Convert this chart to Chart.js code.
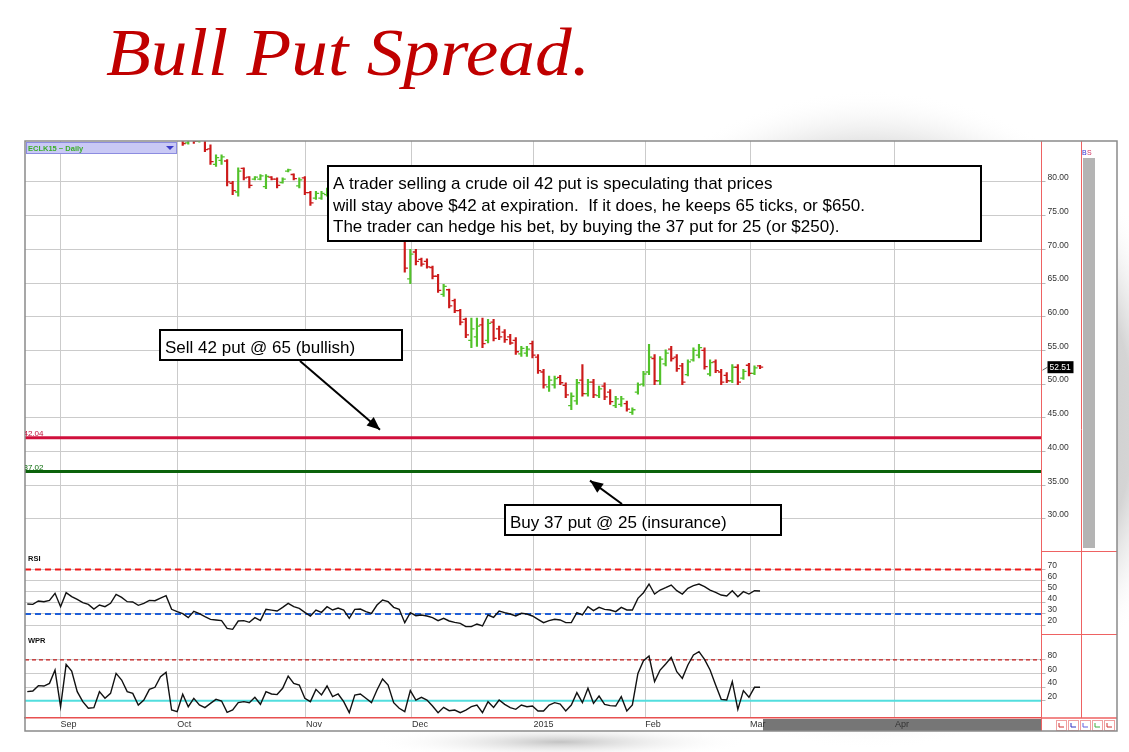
<!DOCTYPE html>
<html>
<head>
<meta charset="utf-8">
<script src="https://cdn.jsdelivr.net/npm/chart.js@4.4.1/dist/chart.umd.min.js"></script>
<style>
  html, body { margin: 0; padding: 0; background: #fff; overflow: hidden; }
</style>
</head>
<body>
<canvas id="chart" width="1129" height="752"></canvas>
<script>
// month gridlines (trading-day index) and their labels
const monthDays = [6.0, 27.0, 50.2, 69.3, 91.2, 111.3, 130.2, 156.3];
const monthLabels = ["Sep", "Oct", "Nov", "Dec", "2015", "Feb", "Mar", "Apr"];

// CLK15 daily bars, first bar is day 28
const priceStartDay = 28;
const priceOpen = [
  87.0, 85.8, 87.0, 86.0, 86.4, 84.9, 82.6, 83.2, 83.1, 79.8,
  78.5, 82.0, 80.7, 80.4, 80.4, 79.3, 80.7, 80.4, 79.9, 81.6,
  81.1, 79.4, 80.6, 78.4, 77.6, 77.6, 78.1, 78.9, 78.0, 78.7,
  77.9, 76.8, 77.5, 76.1, 75.1, 74.4, 75.7, 76.6, 75.3, 74.3,
  73.5, 65.6, 69.6, 68.5, 68.2, 67.3, 66.0, 63.3, 64.0, 62.4,
  60.9, 59.6, 56.5, 57.0, 58.8, 56.5, 59.2, 58.2, 57.7, 57.0,
  56.5, 54.5, 54.6, 56.0, 54.0, 51.8, 49.6, 49.9, 51.0, 49.8,
  46.8, 47.5, 50.6, 48.6, 50.3, 48.3, 49.7, 48.8, 46.8, 47.0,
  47.1, 45.8, 48.8, 50.0, 51.8, 53.8, 50.5, 53.0, 55.2, 54.0,
  52.7, 51.4, 53.6, 54.3, 55.0, 51.5, 53.3, 51.8, 51.3, 50.5,
  52.5, 50.9, 52.8, 51.6, 52.7
];
const priceHigh = [
  88.0, 87.5, 87.5, 87.0, 86.5, 85.5, 84.0, 84.0, 83.3, 80.1,
  82.1, 82.1, 80.8, 80.8, 81.1, 81.1, 80.8, 80.6, 80.6, 81.9,
  81.2, 80.6, 80.8, 78.6, 78.6, 78.6, 79.1, 79.4, 79.0, 79.2,
  78.2, 77.9, 77.8, 76.5, 75.6, 76.0, 77.1, 76.9, 75.7, 74.6,
  73.9, 70.0, 70.0, 68.7, 68.6, 67.5, 66.3, 64.8, 64.1, 62.6,
  61.1, 59.8, 59.8, 59.8, 59.8, 59.6, 59.6, 58.6, 58.1, 57.4,
  56.9, 55.6, 55.6, 56.4, 54.4, 52.2, 51.2, 51.2, 51.3, 50.2,
  48.7, 50.7, 52.9, 50.7, 50.7, 49.7, 50.2, 49.2, 48.2, 48.2,
  47.5, 46.5, 50.2, 51.9, 55.9, 54.4, 54.1, 55.1, 55.6, 54.4,
  53.1, 53.6, 55.4, 55.9, 55.4, 53.6, 53.6, 52.2, 51.7, 52.9,
  52.9, 52.2, 53.1, 52.7, 52.8
];
const priceLow = [
  85.4, 85.6, 85.7, 85.9, 84.5, 82.6, 82.3, 82.6, 79.4, 78.1,
  77.9, 80.3, 79.1, 80.3, 80.3, 79.0, 80.3, 79.1, 79.8, 81.5,
  80.3, 79.1, 78.1, 76.5, 77.4, 77.4, 77.9, 77.8, 77.5, 77.6,
  76.4, 76.5, 75.9, 74.8, 74.0, 74.1, 75.3, 74.9, 74.1, 72.8,
  66.6, 64.9, 67.7, 67.5, 67.2, 65.6, 63.6, 63.0, 61.3, 60.6,
  58.8, 56.9, 55.4, 55.6, 55.4, 56.1, 56.4, 56.6, 56.2, 55.9,
  54.4, 54.1, 54.1, 53.9, 51.6, 49.4, 48.9, 49.4, 49.9, 48.0,
  46.2, 47.0, 48.2, 48.2, 48.0, 48.0, 47.7, 47.0, 46.5, 46.7,
  46.0, 45.5, 48.5, 49.7, 51.4, 49.9, 49.9, 52.7, 53.4, 51.9,
  49.9, 51.2, 53.4, 53.9, 52.2, 51.2, 51.7, 49.9, 50.2, 50.2,
  49.9, 50.7, 51.2, 51.4, 52.3
];
const priceClose = [
  85.7, 87.0, 86.0, 86.6, 84.8, 83.0, 83.6, 83.7, 80.0, 78.7,
  81.6, 80.6, 79.5, 80.7, 80.9, 80.8, 80.4, 79.5, 80.4, 81.8,
  80.5, 80.3, 78.4, 76.9, 78.3, 78.3, 78.9, 78.0, 78.7, 77.9,
  76.7, 77.6, 76.1, 75.0, 74.3, 75.7, 76.8, 75.2, 74.4, 73.7,
  67.2, 69.3, 68.2, 67.8, 67.4, 66.0, 63.9, 64.5, 61.6, 60.9,
  59.2, 57.3, 58.2, 58.6, 56.0, 59.0, 56.8, 57.0, 56.6, 56.1,
  54.8, 55.3, 55.2, 54.3, 52.0, 49.9, 50.6, 50.8, 50.2, 48.4,
  48.2, 50.2, 48.6, 50.3, 48.4, 49.3, 48.1, 47.4, 47.8, 47.8,
  46.3, 46.2, 49.9, 51.5, 54.0, 50.5, 53.7, 54.6, 53.8, 52.3,
  50.3, 53.3, 55.0, 55.4, 52.6, 53.2, 52.0, 50.3, 50.5, 52.5,
  50.3, 51.9, 51.6, 52.4, 52.51
];

// indicators, one value per day starting at day 0
const rsiValues = [
  39.0, 38.7, 41.7, 41.1, 42.3, 48.6, 36.6, 49.2, 45.6, 43.2,
  40.2, 38.7, 34.5, 38.1, 36.6, 39.6, 47.7, 45.0, 41.1, 40.8,
  37.8, 39.6, 42.3, 42.0, 44.4, 46.5, 34.2, 32.1, 30.3, 26.7,
  32.4, 30.3, 27.6, 25.2, 24.6, 24.0, 17.1, 16.2, 23.7, 24.0,
  22.5, 26.7, 24.0, 34.2, 33.5, 32.7, 36.0, 39.6, 36.6, 35.1,
  31.5, 28.2, 33.6, 31.5, 36.6, 33.6, 35.4, 33.6, 26.1, 34.2,
  34.5, 32.1, 30.6, 38.1, 42.6, 41.1, 36.0, 34.2, 22.2, 31.2,
  28.5, 29.1, 28.2, 26.7, 24.0, 26.1, 23.7, 22.5, 21.6, 18.6,
  18.6, 21.0, 19.2, 29.1, 27.0, 32.7, 31.2, 30.0, 28.2, 30.6,
  30.0, 28.2, 25.2, 22.2, 24.0, 25.2, 24.6, 22.2, 22.2, 31.2,
  29.1, 36.6, 33.0, 36.0, 34.2, 33.6, 32.1, 36.0, 33.6, 33.6,
  44.1, 49.2, 57.0, 48.0, 51.6, 53.7, 56.1, 51.0, 48.0, 53.1,
  55.5, 57.0, 54.6, 51.6, 49.5, 47.1, 46.2, 51.0, 45.6, 50.1,
  48.0, 51.0, 50.7
];
const wprValues = [
  33.3, 34.3, 42.1, 41.6, 45.5, 65.1, 11.2, 73.5, 63.7, 33.3,
  18.6, 8.8, 9.8, 33.3, 23.5, 30.8, 60.2, 50.4, 33.3, 30.8,
  13.7, 21.0, 36.7, 39.7, 55.3, 61.7, 6.3, 3.9, 29.4, 11.2,
  23.5, 13.7, 9.8, 16.1, 22.0, 19.6, 2.9, 6.3, 17.1, 18.6,
  17.1, 25.0, 14.7, 33.3, 29.9, 29.0, 38.2, 56.3, 45.5, 43.1,
  23.5, 18.6, 36.7, 28.4, 41.6, 25.9, 29.9, 18.6, 2.4, 28.4,
  29.9, 23.5, 17.1, 35.7, 51.9, 43.1, 17.1, 8.8, 3.9, 34.8,
  21.0, 25.0, 21.0, 12.2, 2.4, 10.2, 5.3, 6.3, 2.4, 6.3,
  11.2, 13.7, 2.4, 18.6, 10.2, 21.0, 14.7, 9.8, 7.3, 13.7,
  11.2, 12.2, 4.9, 4.9, 13.7, 17.1, 15.1, 4.9, 13.7, 31.8,
  17.1, 38.2, 16.1, 26.9, 14.7, 12.7, 12.2, 25.9, 4.9, 13.7,
  60.2, 78.9, 85.7, 48.0, 65.1, 74.0, 83.8, 62.7, 52.9, 72.5,
  87.2, 92.1, 80.8, 65.1, 43.1, 22.0, 21.0, 48.0, 7.3, 34.8,
  25.0, 39.7, 39.7
];

const priceTicks = [30, 35, 40, 45, 50, 55, 60, 65, 70, 75, 80];
const rsiTicks = [20, 30, 40, 50, 60, 70];
const wprTicks = [20, 40, 60, 80];
const sellStrike = 42.04;
const buyStrike = 37.02;
const rsiUpper = 70, rsiLower = 30;
const wprUpper = 80, wprLower = 20;
const lastPrice = 52.51;

const xMin = -0.41, xMax = 182.7;
const upColor = "#52c22a";
const downColor = "#cc1a1a";

const barColor = (i) => (priceClose[i] >= priceOpen[i] ? upColor : downColor);
const hline = (v) => [{ x: xMin, y: v }, { x: xMax, y: v }];

const arrow = (c, x1, y1, x2, y2) => {
  c.beginPath();
  c.moveTo(x1, y1);
  c.lineTo(x2, y2);
  c.stroke();
  const a = Math.atan2(y2 - y1, x2 - x1);
  const L = 13, W = 5.5;
  c.beginPath();
  c.moveTo(x2, y2);
  c.lineTo(x2 - L * Math.cos(a) + W * Math.sin(a), y2 - L * Math.sin(a) - W * Math.cos(a));
  c.lineTo(x2 - L * Math.cos(a) - W * Math.sin(a), y2 - L * Math.sin(a) + W * Math.cos(a));
  c.closePath();
  c.fill();
};

const textBox = (c, x, y, w, h, lines, lineGap) => {
  c.fillStyle = "#fff";
  c.fillRect(x, y, w, h);
  c.lineWidth = 2;
  c.strokeStyle = "#000";
  c.strokeRect(x, y, w, h);
  c.fillStyle = "#000";
  c.font = '17px "Liberation Sans", Arial, sans-serif';
  c.textAlign = "left";
  c.textBaseline = "alphabetic";
  lines.forEach((t, i) => c.fillText(t, x + 5, y + 23 + i * lineGap));
};

const decor = {
  id: "decor",
  beforeDraw(chart) {
    const c = chart.ctx;
    c.save();
    c.fillStyle = "#fff";
    c.fillRect(0, 0, chart.width, chart.height);
    // grey globe behind the header
    let g = c.createRadialGradient(870, 420, 0, 870, 420, 330);
    g.addColorStop(0, "rgba(165,165,165,1)");
    g.addColorStop(0.8, "rgba(208,208,208,0.9)");
    g.addColorStop(1, "rgba(255,255,255,0)");
    c.fillStyle = g;
    c.fillRect(0, 0, chart.width, chart.height);
    // shadow under the frame
    c.save();
    c.translate(560, 742);
    c.scale(1, 0.09);
    g = c.createRadialGradient(0, 0, 0, 0, 0, 190);
    g.addColorStop(0, "rgba(195,195,195,1)");
    g.addColorStop(1, "rgba(255,255,255,0)");
    c.fillStyle = g;
    c.beginPath();
    c.arc(0, 0, 190, 0, Math.PI * 2);
    c.fill();
    c.restore();
    c.fillStyle = "#fff";
    c.fillRect(25, 141, 1092, 590);
    // scroll bar
    c.fillStyle = "#767676";
    c.fillRect(763, 719, 278, 12);
    c.restore();
  },
  afterDraw(chart) {
    const c = chart.ctx;
    const yP = chart.scales.yPrice;
    const area = chart.chartArea;
    c.save();

    // title
    const title = "Bull Put Spread.";
    c.font = 'italic 68px "Liberation Serif", serif';
    const tw = c.measureText(title).width;
    c.save();
    c.translate(106, 75);
    c.scale(484 / tw, 1);
    c.fillStyle = "#c00000";
    c.fillText(title, 0, 0);
    c.restore();

    // right-hand column and frame
    c.strokeStyle = "#ee6262";
    c.lineWidth = 1;
    c.beginPath();
    c.moveTo(1081.5, 141); c.lineTo(1081.5, 718);
    c.moveTo(area.right, 141); c.lineTo(area.right, 731);
    c.moveTo(area.right, 551.5); c.lineTo(1117, 551.5);
    c.moveTo(area.right, 634.5); c.lineTo(1117, 634.5);
    c.stroke();
    c.lineWidth = 1.5;
    c.beginPath();
    c.moveTo(area.right, 718); c.lineTo(1117, 718);
    c.stroke();
    c.fillStyle = "#b4b4b4";
    c.fillRect(1083, 158, 12, 390);
    c.font = '7px "Liberation Sans", sans-serif';
    c.textBaseline = "middle";
    c.fillStyle = "#3030d0";
    c.fillText("B", 1082, 153);
    c.fillStyle = "#d03060";
    c.fillText("S", 1087, 153);
    // small buttons bottom right
    const btnColors = ["#d03030", "#3030c0", "#6060e0", "#40b040", "#d03030"];
    btnColors.forEach((col, i) => {
      const bx = 1056 + i * 12;
      c.fillStyle = "#fff";
      c.fillRect(bx, 720, 10, 10);
      c.strokeStyle = "#f0a0a0";
      c.lineWidth = 1;
      c.strokeRect(bx + 0.5, 720.5, 10, 10);
      c.strokeStyle = col;
      c.beginPath();
      c.moveTo(bx + 3, 723); c.lineTo(bx + 3, 727); c.lineTo(bx + 8, 727);
      c.stroke();
    });
    c.strokeStyle = "#8a8a8a";
    c.lineWidth = 1.5;
    c.strokeRect(25, 141, 1092, 590);

    // symbol box
    c.fillStyle = "#c9c9f5";
    c.fillRect(26, 142, 150, 11);
    c.strokeStyle = "#8c8ce0";
    c.lineWidth = 1;
    c.strokeRect(26.5, 142.5, 150, 11);
    c.fillStyle = "#3aae2a";
    c.font = 'bold 7.5px "Liberation Sans", sans-serif';
    c.textBaseline = "middle";
    c.textAlign = "left";
    c.fillText("ECLK15 ~ Daily", 28, 148.5);
    c.fillStyle = "#3a3ac8";
    c.beginPath();
    c.moveTo(166, 146); c.lineTo(174, 146); c.lineTo(170, 150);
    c.closePath();
    c.fill();

    // strike labels at the left edge
    c.save();
    c.beginPath();
    c.rect(area.left, area.top, area.right - area.left, area.bottom - area.top);
    c.clip();
    c.font = '8px "Liberation Sans", sans-serif';
    c.textBaseline = "alphabetic";
    c.fillStyle = "#c0103a";
    c.fillText(sellStrike.toFixed(2), 23.5, yP.getPixelForValue(sellStrike) - 2);
    c.fillStyle = "#0a6a0a";
    c.fillText(buyStrike.toFixed(2), 23.5, yP.getPixelForValue(buyStrike) - 2);
    c.restore();

    // panel names
    c.fillStyle = "#111";
    c.font = 'bold 7.5px "Liberation Sans", sans-serif';
    c.textBaseline = "middle";
    c.fillText("RSI", 28, 558.5);
    c.fillText("WPR", 28, 640.5);

    // last price tag
    const ly = yP.getPixelForValue(lastPrice);
    c.strokeStyle = "#666";
    c.lineWidth = 1;
    c.beginPath();
    c.moveTo(area.right + 1, ly + 3); c.lineTo(area.right + 6, ly);
    c.stroke();
    c.fillStyle = "#000";
    c.fillRect(area.right + 6, ly - 6, 26, 12);
    c.fillStyle = "#fff";
    c.font = '8.5px "Liberation Sans", sans-serif';
    c.fillText(lastPrice.toFixed(2), area.right + 8, ly);

    // annotations
    textBox(c, 328, 166, 653, 75, [
      "A trader selling a crude oil 42 put is speculating that prices",
      "will stay above $42 at expiration.  If it does, he keeps 65 ticks, or $650.",
      "The trader can hedge his bet, by buying the 37 put for 25 (or $250)."
    ], 21.5);
    textBox(c, 160, 330, 242, 30, ["Sell 42 put @ 65 (bullish)"], 0);
    textBox(c, 505, 505, 276, 30, ["Buy 37 put @ 25 (insurance)"], 0);

    c.strokeStyle = "#000";
    c.fillStyle = "#000";
    c.lineWidth = 2;
    arrow(c, 300, 361, 380, yP.getPixelForValue(sellStrike) - 8);
    arrow(c, 622, 504, 590, yP.getPixelForValue(buyStrike) + 9);

    c.restore();
  }
};

const axisFont = { family: "Liberation Sans", size: 8.5 };
const gridColor = "#cbcbcb";
const yCommon = (weight, min, max, ticks, fmt) => ({
  type: "linear",
  position: "right",
  stack: "panels",
  stackWeight: weight,
  min: min,
  max: max,
  beginAtZero: false,
  afterBuildTicks: (s) => { s.ticks = ticks.map((v) => ({ value: v })); },
  afterFit: (s) => { s.width = 39.5; },
  grid: { color: gridColor, tickLength: 4, tickColor: "#b8b8b8" },
  border: { color: "#ee6262", width: 1 },
  ticks: { autoSkip: false, callback: fmt, font: axisFont, color: "#333", padding: 2, labelOffset: -4 }
});

new Chart(document.getElementById("chart"), {
  type: "line",
  data: {
    datasets: [
      {
        label: "RSI",
        data: rsiValues.map((v, i) => ({ x: i, y: v })),
        yAxisID: "yRsi",
        borderColor: "#111",
        borderWidth: 1.4,
        pointRadius: 0,
        clip: 0,
        order: 0
      },
      {
        label: "WPR",
        data: wprValues.map((v, i) => ({ x: i, y: v })),
        yAxisID: "yWpr",
        borderColor: "#111",
        borderWidth: 1.4,
        pointRadius: 0,
        clip: 0,
        order: 0
      },
      {
        label: "RSI upper",
        data: hline(rsiUpper),
        yAxisID: "yRsi",
        borderColor: "#f01818",
        borderWidth: 2,
        borderDash: [6, 4],
        pointRadius: 0,
        clip: 0,
        order: 1
      },
      {
        label: "RSI lower",
        data: hline(rsiLower),
        yAxisID: "yRsi",
        borderColor: "#1f5fd8",
        borderWidth: 2,
        borderDash: [6, 4],
        pointRadius: 0,
        clip: 0,
        order: 1
      },
      {
        label: "WPR upper",
        data: hline(wprUpper),
        yAxisID: "yWpr",
        borderColor: "#c41a1a",
        borderWidth: 1.4,
        borderDash: [4, 3],
        pointRadius: 0,
        clip: 0,
        order: 1
      },
      {
        label: "WPR lower",
        data: hline(wprLower),
        yAxisID: "yWpr",
        borderColor: "#52dede",
        borderWidth: 2,
        pointRadius: 0,
        clip: 0,
        order: 1
      },
      {
        label: "Sell 42 put",
        data: hline(sellStrike),
        yAxisID: "yPrice",
        borderColor: "#d0103c",
        borderWidth: 3,
        pointRadius: 0,
        clip: 0,
        order: 1
      },
      {
        label: "Buy 37 put",
        data: hline(buyStrike),
        yAxisID: "yPrice",
        borderColor: "#0b620b",
        borderWidth: 3,
        pointRadius: 0,
        clip: 0,
        order: 1
      },
      {
        type: "bar",
        label: "High-Low",
        data: priceHigh.map((h, i) => ({ x: priceStartDay + i, y: [priceLow[i], h] })),
        yAxisID: "yPrice",
        backgroundColor: (ctx) => barColor(ctx.dataIndex),
        barThickness: 1.5,
        grouped: false,
        clip: 0,
        order: 2
      },
      {
        label: "Open",
        data: priceOpen.map((o, i) => ({ x: priceStartDay + i - 0.28, y: o })),
        yAxisID: "yPrice",
        showLine: false,
        pointStyle: "line",
        pointRadius: 1.6,
        pointBorderWidth: 1.3,
        pointBorderColor: (ctx) => barColor(ctx.dataIndex),
        clip: 0,
        order: 2
      },
      {
        label: "Close",
        data: priceClose.map((v, i) => ({ x: priceStartDay + i + 0.28, y: v })),
        yAxisID: "yPrice",
        showLine: false,
        pointStyle: "line",
        pointRadius: 1.6,
        pointBorderWidth: 1.3,
        pointBorderColor: (ctx) => barColor(ctx.dataIndex),
        clip: 0,
        order: 2
      }
    ]
  },
  options: {
    responsive: false,
    animation: false,
    events: [],
    layout: { padding: { left: 25, top: 141, right: 48, bottom: 21 } },
    plugins: { legend: { display: false }, tooltip: { enabled: false } },
    scales: {
      x: {
        type: "linear",
        min: xMin,
        max: xMax,
        offset: false,
        afterBuildTicks: (s) => { s.ticks = monthDays.map((v) => ({ value: v })); },
        afterFit: (s) => { s.height = 13; },
        grid: { color: gridColor, drawTicks: false, offset: false },
        border: { color: "#e85050", width: 1.5 },
        ticks: {
          autoSkip: false,
          maxRotation: 0,
          align: "start",
          padding: 1,
          callback: (v, i) => monthLabels[i],
          font: { family: "Liberation Sans", size: 9 },
          color: "#333"
        }
      },
      yPrice: yCommon(410, 25.24, 86.07, priceTicks, (v) => v.toFixed(2)),
      yRsi: yCommon(83, 11.98, 86.76, rsiTicks, (v) => String(v)),
      yWpr: yCommon(84, -5.44, 118.1, wprTicks, (v) => String(v))
    }
  },
  plugins: [decor]
});
</script>
</body>
</html>
